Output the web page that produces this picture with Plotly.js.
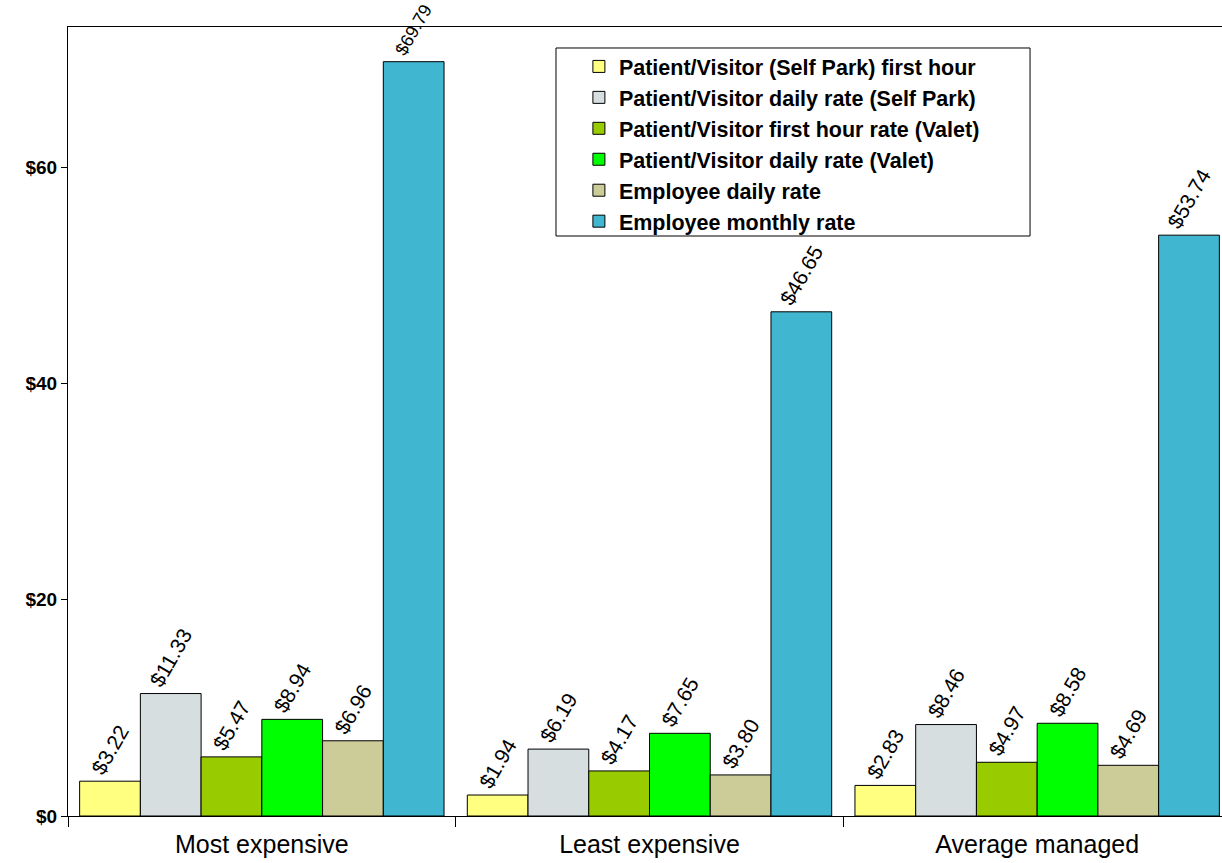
<!DOCTYPE html>
<html><head><meta charset="utf-8">
<script src="https://cdn.plot.ly/plotly-3.0.1.min.js"></script>
<style>html,body{margin:0;padding:0;overflow:hidden;background:#fff}</style>
</head><body>
<div id="chart"></div>
<script>
const categories = ["Most expensive", "Least expensive", "Average managed"];
const seriesNames = [
  "Patient/Visitor (Self Park) first hour",
  "Patient/Visitor daily rate (Self Park)",
  "Patient/Visitor first hour rate (Valet)",
  "Patient/Visitor daily rate (Valet)",
  "Employee daily rate",
  "Employee monthly rate"
];
const selfParkFirstHour = [3.22, 1.94, 2.83];
const selfParkDaily = [11.33, 6.19, 8.46];
const valetFirstHour = [5.47, 4.17, 4.97];
const valetDaily = [8.94, 7.65, 8.58];
const employeeDaily = [6.96, 3.80, 4.69];
const employeeMonthly = [69.79, 46.65, 53.74];
const yTickVals = [0, 20, 40, 60];
const yTickText = ["$0", "$20", "$40", "$60"];

const seriesValues = [selfParkFirstHour, selfParkDaily, valetFirstHour, valetDaily, employeeDaily, employeeMonthly];
const colors = ["#FFFF80", "#D6DEE0", "#99CC00", "#00FF00", "#CCCC99", "#40B6D0"];
const FONT = "Arial, 'Liberation Sans', sans-serif";
const Y_MAX = 73;

const traces = seriesValues.map((vals, i) => ({
  type: "bar",
  name: seriesNames[i],
  x: categories,
  y: vals,
  text: vals.map(v => "$" + v.toFixed(2)),
  texttemplate: "%{text}",
  textposition: "outside",
  textangle: -60,
  constraintext: "none",
  cliponaxis: false,
  // labels very close to the top of the axis are shrunk so they stay on the page
  textfont: {family: FONT, size: vals.map(v => (v > Y_MAX * 0.9 ? 18 : 21)), color: "#000"},
  marker: {color: colors[i], line: {color: "#000", width: 1}},
  hoverinfo: "skip"
}));

const layout = {
  width: 1231, height: 863,
  margin: {l: 68, r: 0, t: 27, b: 47},
  paper_bgcolor: "#fff", plot_bgcolor: "#fff",
  font: {family: FONT, color: "#000"},
  barmode: "group",
  bargap: 0.06,
  bargroupgap: 0,
  showlegend: true,
  legend: {
    x: 0.4393, y: 0.976, xanchor: "left", yanchor: "top",
    bgcolor: "rgba(0,0,0,0)", borderwidth: 0,
    font: {family: FONT, size: 21.5, color: "#000", weight: "bold"},
    itemwidth: 30, tracegroupgap: 0
  },
  shapes: [{
    type: "rect", xref: "paper", yref: "paper",
    x0: 0.4196, x1: 0.8272, y0: 0.7351, y1: 0.9734,
    line: {color: "#000", width: 1}, fillcolor: "#fff", layer: "below"
  }],
  xaxis: {
    type: "category",
    showline: true, linecolor: "#000", linewidth: 1, mirror: true,
    ticks: "outside", tickson: "boundaries", ticklen: 10, tickcolor: "#000",
    ticklabelstandoff: 6,
    tickfont: {family: FONT, size: 25, color: "#000"},
    showgrid: false, zeroline: false
  },
  yaxis: {
    range: [0, Y_MAX],
    tickvals: yTickVals, ticktext: yTickText,
    showline: true, linecolor: "#000", linewidth: 1, mirror: true,
    ticks: "outside", ticklen: 6, tickcolor: "#000",
    tickfont: {family: FONT, size: 19, color: "#000", weight: "bold"},
    showgrid: false, zeroline: false
  }
};

Plotly.newPlot("chart", traces, layout, {displayModeBar: false, staticPlot: true});
</script>
</body></html>
